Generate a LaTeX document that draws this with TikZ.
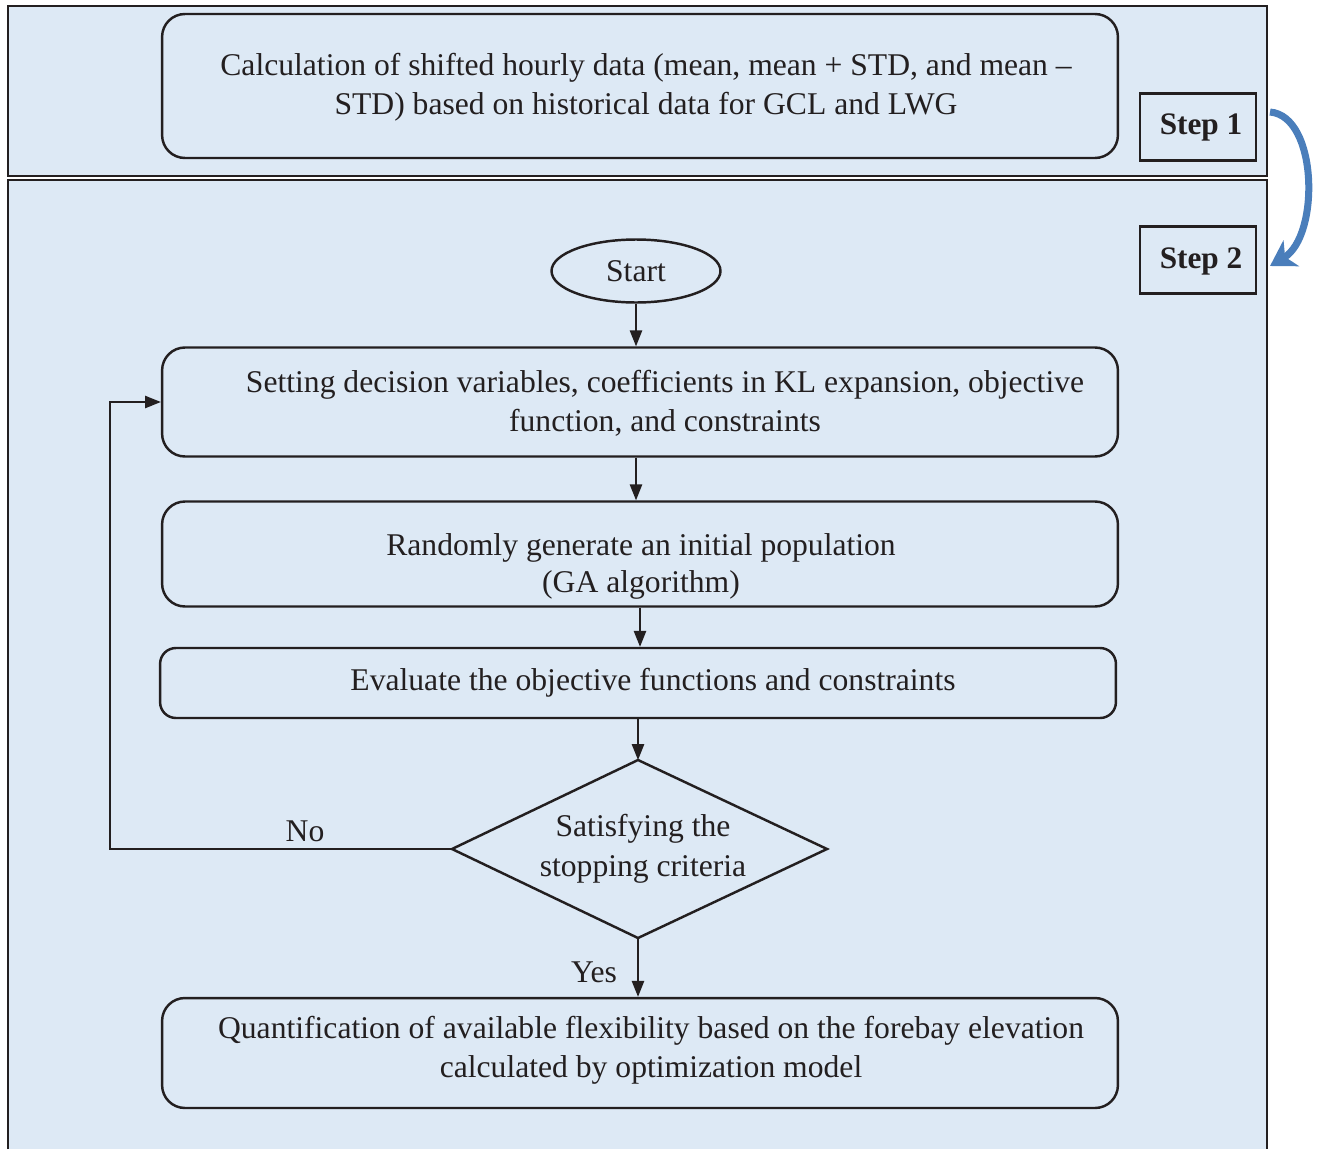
\documentclass[tikz,border=0pt]{standalone}
\usepackage{fontspec}
\setmainfont{Liberation Serif}
\usetikzlibrary{shapes.geometric,arrows.meta}
\definecolor{panel}{HTML}{DDE9F5}
\definecolor{ink}{HTML}{231F20}
\definecolor{arrowblue}{HTML}{4A7EBB}
\tikzset{
  every node/.style={text=ink},
  procbox/.style={draw=ink,line width=1.4pt,rounded corners=13pt,fill=panel,align=center,inner sep=0pt,font=\fontsize{18}{22}\selectfont},
  stepbox/.style={draw=ink,line width=1.4pt,fill=panel,minimum width=2.32cm,minimum height=1.34cm,font=\fontsize{17.8}{20}\selectfont\bfseries},
  txt/.style={align=center,font=\fontsize{18}{22}\selectfont,inner sep=0pt},
  flow/.style={draw=ink,line width=0.8pt,-{Triangle[length=9pt,width=7pt]}},
}
\begin{document}
\begin{tikzpicture}[x=0.02cm,y=-0.02cm]
\useasboundingbox (0,0) rectangle (1324,1149);
% panels
\fill[panel] (8,6) rectangle (1267,176);
\draw[ink,line width=1.1pt] (8,6) rectangle (1267,176);
\fill[panel] (8,180) rectangle (1267,1149);
\draw[ink,line width=1.1pt] (8,1149) -- (8,180) -- (1267,180) -- (1267,1149);
% top box
\node[procbox,minimum width=19.12cm,minimum height=2.88cm] (calc) at (640,86) {};
\node[txt,font=\fontsize{18}{22.1}\selectfont] (calctxt) at (646,87) {Calculation of shifted hourly data (mean, mean + STD, and mean –\\STD) based on historical data for GCL and LWG};
% steps
\node[stepbox] (s1) at (1198,127) {};
\node[stepbox,draw=none,fill=none] (s1txt) at (1201,127) {Step 1};
\node[stepbox] (s2) at (1198,260) {};
\node[stepbox,draw=none,fill=none] (s2txt) at (1201,261) {Step 2};
\coordinate (c1) at (1270,112);
\coordinate (c2) at (1270,266);
\draw[arrowblue,line width=4pt,-{Stealth[length=14pt,width=17pt,inset=4pt]}] (c1) .. controls (1318,116) and (1320,236) .. (c2);
% start
\node[draw=ink,line width=1.4pt,ellipse,fill=panel,minimum width=3.38cm,minimum height=1.26cm,inner sep=0pt,font=\fontsize{18}{22}\selectfont] (start) at (636,271) {Start};
% box2
\node[procbox,minimum width=19.12cm,minimum height=2.18cm] (set) at (640,402) {};
\node[txt] (settxt) at (665,403) {Setting decision variables, coefficients in KL expansion, objective\\function, and constraints};
% box3
\node[procbox,minimum width=19.12cm,minimum height=2.1cm] (rand) at (640,554) {};
\node[txt,font=\fontsize{18}{21}\selectfont] (randtxt) at (641,566) {Randomly generate an initial population\\(GA algorithm)};
% box4
\node[procbox,minimum width=19.12cm,minimum height=1.4cm,rounded corners=9pt] (eval) at (638,683) {};
\node[txt] (evaltxt) at (653,683) {Evaluate the objective functions and constraints};
% diamond
\coordinate (dT) at (638,760);
\coordinate (dL) at (452,849);
\coordinate (dR) at (827,849);
\coordinate (dB) at (638,938);
\draw[ink,line width=1.4pt,fill=panel] (dT) -- (dR) -- (dB) -- (dL) -- cycle;
\node[txt,font=\fontsize{18}{22.7}\selectfont] (dtxt) at (643,849) {Satisfying the\\stopping criteria};
% box5
\node[procbox,minimum width=19.12cm,minimum height=2.2cm] (quant) at (640,1053) {};
\node[txt] (quanttxt) at (651,1050) {Quantification of available flexibility based on the forebay elevation\\calculated by optimization model};
% arrows
\draw[flow] (start.south) -- (set.north -| start.south);
\draw[flow] (set.south -| start.south) -- (rand.north -| start.south);
\draw[flow] ([xshift=0.08cm]rand.south -| start.south) -- ([xshift=0.08cm]eval.north -| start.south);
\draw[flow] (eval.south -| dT) -- (dT);
\draw[flow] (dB) -- (quant.north -| dB);
\coordinate (loopA) at (110,849);
\coordinate (loopB) at (110,402);
\draw[flow] (dL) -- (loopA) -- (loopB) -- (set.west);
\node[txt] (no) at (305,831) {No};
\node[txt] (yes) at (594,972) {Yes};
\end{tikzpicture}
\end{document}
